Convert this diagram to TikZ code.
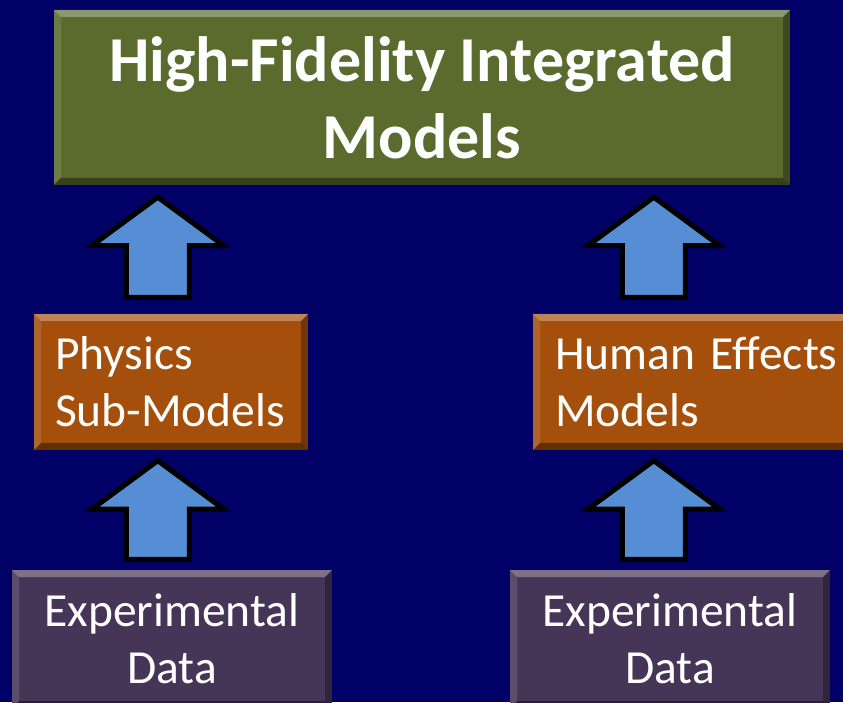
\documentclass[tikz,border=0pt]{standalone}
\usepackage{fontspec}
\setmainfont{Carlito}
\usetikzlibrary{calc}

\definecolor{navy}{RGB}{0,0,102}
\definecolor{olive}{RGB}{91,107,46}
\definecolor{rust}{RGB}{164,80,12}
\definecolor{plum}{RGB}{69,54,88}
\definecolor{skyblue}{RGB}{85,142,213}

\tikzset{
  bevel/.style={path picture={
    \path (path picture bounding box.north west) coordinate (bnw)
          (path picture bounding box.north east) coordinate (bne)
          (path picture bounding box.south west) coordinate (bsw)
          (path picture bounding box.south east) coordinate (bse);
    \fill[white,opacity=.3] (bnw) -- (bne) -- ($(bne)+(-7pt,-7pt)$) -- ($(bnw)+(7pt,-7pt)$) -- cycle;
    \fill[white,opacity=.12] (bnw) -- ($(bnw)+(7pt,-7pt)$) -- ($(bsw)+(7pt,7pt)$) -- (bsw) -- cycle;
    \fill[black,opacity=.3] (bne) -- (bse) -- ($(bse)+(-7pt,7pt)$) -- ($(bne)+(-7pt,-7pt)$) -- cycle;
    \fill[black,opacity=.4] (bsw) -- (bse) -- ($(bse)+(-7pt,7pt)$) -- ($(bsw)+(7pt,7pt)$) -- cycle;
  }},
  modelbox/.style={bevel, text=white, inner ysep=0pt, font=\fontsize{47.5}{57}\selectfont},
  blockarrow/.style={fill=skyblue, draw=black, line width=5pt, line join=miter}
}

% #1 = middle of the foot, #2 = height of the tip
\newcommand\blockup[2]{%
  \draw[blockarrow] let \p1=(#1), \p2=(#2) in
    (\x1-31.5pt,\y1) -- (\x1+31.5pt,\y1) -- (\x1+31.5pt,\y2-48.5pt)
    -- (\x1+66pt,\y2-48.5pt) -- (\x1,\y2) -- (\x1-66pt,\y2-48.5pt)
    -- (\x1-31.5pt,\y2-48.5pt) -- cycle;}

\begin{document}
\begin{tikzpicture}[x=1pt,y=1pt]
  \fill[navy] (0,0) rectangle (843,702);
  \useasboundingbox (0,0) rectangle (843,702);
  \clip (0,0) rectangle (843,702);

  \node[modelbox, fill=olive, minimum width=736pt, minimum height=175pt, align=center,
        font=\fontsize{64}{77}\selectfont\bfseries] (top) at (422,604.5)
    {High-Fidelity Integrated\\Models};

  \node[modelbox, fill=rust, minimum height=136pt, inner xsep=21pt, text width=232pt,
        align=left] (phys) at (171,320) {Physics\\Sub-Models};
  \node[modelbox, fill=rust, minimum height=136pt, inner xsep=22pt, text width=296pt,
        align=left] (human) at (703,320) {Human Effects\\Models};

  \node[modelbox, fill=plum, minimum width=320pt, minimum height=138pt, align=center]
    (dataL) at (172,63) {Experimental\\Data};
  \node[modelbox, fill=plum, minimum width=320pt, minimum height=138pt, align=center]
    (dataR) at (670,63) {Experimental\\Data};

  \blockup{$(phys.north west)+(124,16.5)$}{$(top.south)+(0,-12)$}
  \blockup{$(human.north west)+(121,16.5)$}{$(top.south)+(0,-12)$}
  \blockup{$(dataL.north west)+(146,10.5)$}{$(phys.south)+(0,-10.5)$}
  \blockup{$(dataR.north west)+(144,10.5)$}{$(human.south)+(0,-10.5)$}
\end{tikzpicture}
\end{document}
